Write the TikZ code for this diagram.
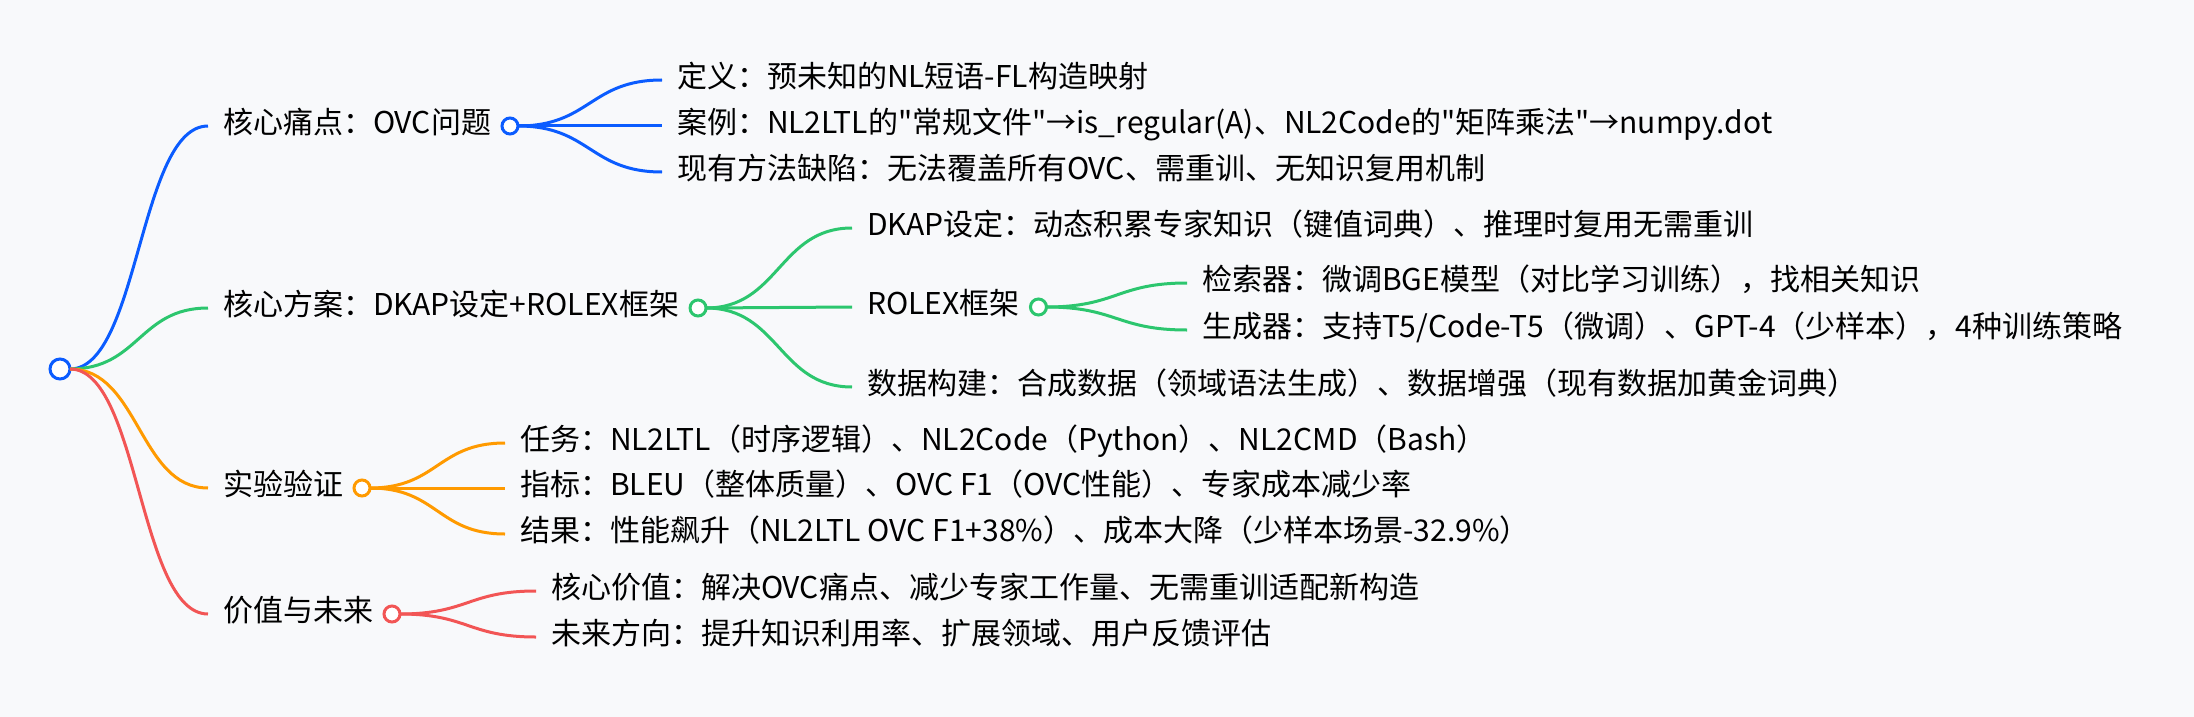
\documentclass[tikz,border=0pt]{standalone}
\usepackage{fontspec}
\newfontfamily\cjkfont{Noto Sans CJK SC}
\usetikzlibrary{positioning,calc}
\definecolor{mblue}{HTML}{0B5CFF}
\definecolor{mgreen}{HTML}{2CC66E}
\definecolor{morange}{HTML}{FF9A00}
\definecolor{mred}{HTML}{F25555}
\definecolor{bg}{HTML}{F8F9FB}
\begin{document}
\begin{tikzpicture}[x=0.5pt,y=-0.5pt,
  txt/.style={anchor=west,inner xsep=7.5pt,outer sep=0,text height=0.82em,text depth=0.06em,font=\cjkfont\fontsize{15pt}{18pt}\selectfont},
  dot/.style={circle,draw=#1,fill=white,line width=1.5pt,minimum size=8pt,inner sep=0,outer sep=0},
  link/.style={line width=1.5pt,draw=#1,to path={let \p1=(\tikztostart),\p2=(\tikztotarget) in .. controls ({(\x1+\x2)/2},\y1) and ({(\x1+\x2)/2},\y2) .. (\tikztotarget)}}]
\useasboundingbox (0,0) rectangle (2194,717);
\fill[bg] (0,0) rectangle (2194,717);
\node[dot=mblue,minimum size=10pt] (root) at (60,369) {};
% level 1
\node[txt] (pain) at (208,126) {核心痛点：OVC问题};
\node[dot=mblue,right=-2pt of pain] (pain-o) {};
\node[txt] (plan) at (208,308) {核心方案：DKAP设定+ROLEX框架};
\node[dot=mgreen,right=-2pt of plan] (plan-o) {};
\node[txt] (exp) at (208,488) {实验验证};
\node[dot=morange,right=-2pt of exp] (exp-o) {};
\node[txt] (val) at (208,614) {价值与未来};
\node[dot=mred,right=-2pt of val] (val-o) {};
\draw[link=mblue] (root.east) to (pain.west);
\draw[link=mgreen] (root.east) to (plan.west);
\draw[link=morange] (root.east) to (exp.west);
\draw[link=mred] (root.east) to (val.west);
% pain
\node[txt] (pain-def) at (662,80) {定义：预未知的NL短语-FL构造映射};
\node[txt] (pain-case) at (662,126) {案例：NL2LTL的"常规文件"→is\_regular(A)、NL2Code的"矩阵乘法"→numpy.dot};
\node[txt] (pain-gap) at (662,172) {现有方法缺陷：无法覆盖所有OVC、需重训、无知识复用机制};
\foreach \k in {def,case,gap} \draw[link=mblue] (pain-o.east) to (pain-\k.west);
% plan
\node[txt] (plan-dkap) at (852,228) {DKAP设定：动态积累专家知识（键值词典）、推理时复用无需重训};
\node[txt] (plan-rolex) at (852,307) {ROLEX框架};
\node[dot=mgreen,right=-2pt of plan-rolex] (plan-rolex-o) {};
\node[txt] (plan-data) at (852,387) {数据构建：合成数据（领域语法生成）、数据增强（现有数据加黄金词典）};
\foreach \k in {dkap,rolex,data} \draw[link=mgreen] (plan-o.east) to (plan-\k.west);
\node[txt] (rolex-ret) at (1187,283) {检索器：微调BGE模型（对比学习训练），找相关知识};
\node[txt] (rolex-gen) at (1187,330) {生成器：支持T5/Code-T5（微调）、GPT-4（少样本），4种训练策略};
\foreach \k in {ret,gen} \draw[link=mgreen] (plan-rolex-o.east) to (rolex-\k.west);
% exp
\node[txt] (exp-task) at (505,443) {任务：NL2LTL（时序逻辑）、NL2Code（Python）、NL2CMD（Bash）};
\node[txt] (exp-metric) at (505,488) {指标：BLEU（整体质量）、OVC F1（OVC性能）、专家成本减少率};
\node[txt] (exp-result) at (505,534) {结果：性能飙升（NL2LTL OVC F1+38\%）、成本大降（少样本场景-32.9\%）};
\foreach \k in {task,metric,result} \draw[link=morange] (exp-o.east) to (exp-\k.west);
% val
\node[txt] (val-core) at (536,591) {核心价值：解决OVC痛点、减少专家工作量、无需重训适配新构造};
\node[txt] (val-future) at (536,637) {未来方向：提升知识利用率、扩展领域、用户反馈评估};
\foreach \k in {core,future} \draw[link=mred] (val-o.east) to (val-\k.west);
\end{tikzpicture}
\end{document}
